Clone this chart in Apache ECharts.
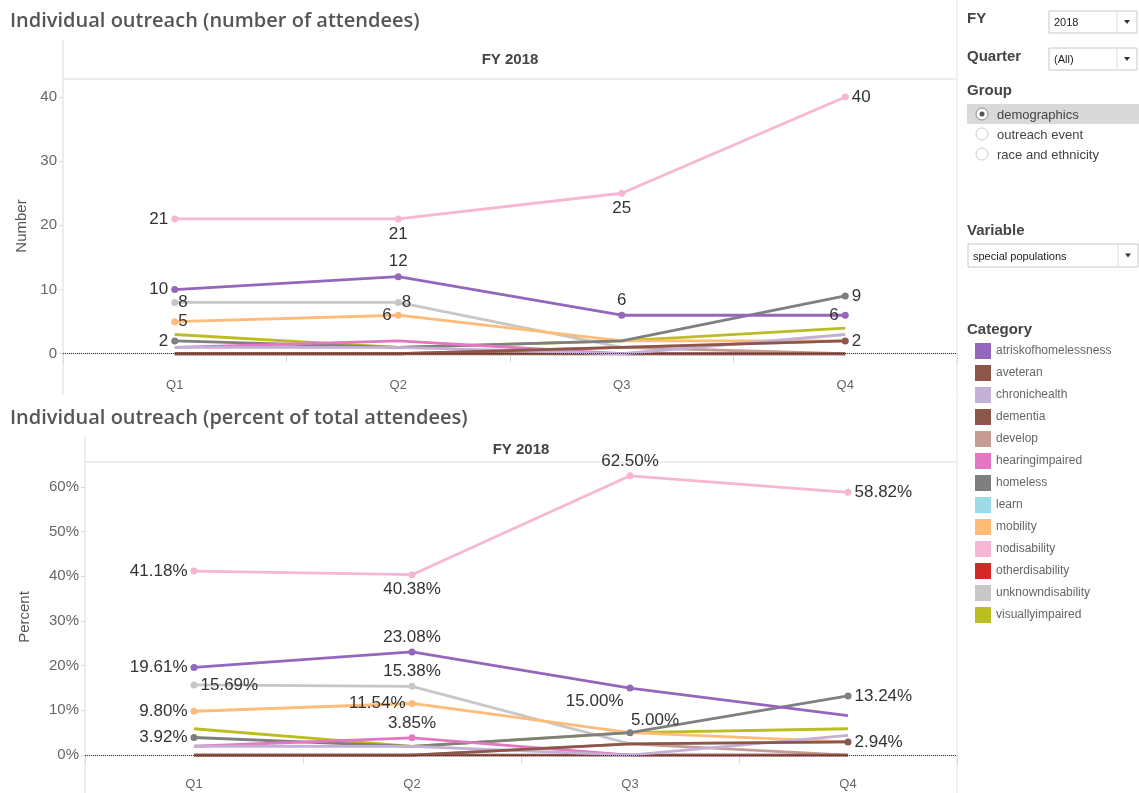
<!DOCTYPE html>
<html>
<head>
<meta charset="utf-8">
<title>Individual outreach</title>
<script src="https://cdn.jsdelivr.net/npm/echarts@6/dist/echarts.min.js"></script>
<style>
  html, body { margin: 0; padding: 0; background: #fff; }
  #main { width: 1139px; height: 793px; }
</style>
</head>
<body>
<div id="main"></div>
<script>
var quarters = ['Q1', 'Q2', 'Q3', 'Q4'];
var categories = ['atriskofhomelessness', 'aveteran', 'chronichealth', 'dementia', 'develop',
  'hearingimpaired', 'homeless', 'learn', 'mobility', 'nodisability', 'otherdisability',
  'unknowndisability', 'visuallyimpaired'];
var colors = ['#9467bd', '#8c564b', '#c5b0d5', '#8c564b', '#c49c94', '#e377c2', '#7f7f7f',
  '#9edae5', '#ffbb78', '#f7b6d2', '#d62728', '#c7c7c7', '#bcbd22'];

// number of attendees per quarter
var countAtrisk   = [10, 12, 6, 6];
var countVeteran  = [0, 0, 1, 2];
var countChronic  = [1, 1, 0, 3];
var countDementia = [0, 0, 0, 0];
var countDevelop  = [0, 0, 1, 0];
var countHearing  = [1, 2, 0, 0];
var countHomeless = [2, 1, 2, 9];
var countLearn    = [null, null, null, null];
var countMobility = [5, 6, 2, 2];
var countNodis    = [21, 21, 25, 40];
var countOther    = [null, null, null, null];
var countUnknown  = [8, 8, 1, 2];
var countVisual   = [3, 1, 2, 4];

// percent of total attendees per quarter
var pctAtrisk   = [19.61, 23.08, 15.00, 8.82];
var pctVeteran  = [0, 0, 2.50, 2.94];
var pctChronic  = [1.96, 1.92, 0, 4.41];
var pctDementia = [0, 0, 0, 0];
var pctDevelop  = [0, 0, 2.50, 0];
var pctHearing  = [1.96, 3.85, 0, 0];
var pctHomeless = [3.92, 1.92, 5.00, 13.24];
var pctLearn    = [null, null, null, null];
var pctMobility = [9.80, 11.54, 5.00, 2.94];
var pctNodis    = [41.18, 40.38, 62.50, 58.82];
var pctOther    = [null, null, null, null];
var pctUnknown  = [15.69, 15.38, 2.50, 2.94];
var pctVisual   = [5.88, 1.92, 5.00, 5.88];

var countData = [countAtrisk, countVeteran, countChronic, countDementia, countDevelop, countHearing,
  countHomeless, countLearn, countMobility, countNodis, countOther, countUnknown, countVisual];
var pctData = [pctAtrisk, pctVeteran, pctChronic, pctDementia, pctDevelop, pctHearing,
  pctHomeless, pctLearn, pctMobility, pctNodis, pctOther, pctUnknown, pctVisual];

// where the marks get a label: [position, offsetX, offsetY]
var countMarks = {
  atriskofhomelessness: [['left'], ['top'], ['top'], ['left']],
  aveteran: [null, null, null, ['right']],
  homeless: [['left'], null, null, ['right']],
  mobility: [['right', -3], ['left'], null, null],
  nodisability: [['left'], ['bottom'], ['bottom'], ['right']],
  unknowndisability: [['right', -3], ['right', -3], null, null]
};
var pctMarks = {
  atriskofhomelessness: [['left'], ['top'], ['left', 0, 13], null],
  aveteran: [null, null, null, ['right']],
  hearingimpaired: [null, ['top'], null, null],
  homeless: [['left'], null, ['top', 25, 3], ['right']],
  mobility: [['left'], ['left'], null, null],
  nodisability: [['left'], ['bottom'], ['top'], ['right']],
  unknowndisability: [['right'], ['top'], null, null]
};

var labelFont = { color: '#333', fontSize: 17, fontFamily: 'Liberation Sans, Arial, sans-serif' };

function buildData(values, marks, fmt) {
  return values.map(function (v, i) {
    var m = marks && marks[i];
    if (!m || v == null) return { value: v, symbolSize: 0 };
    return {
      value: v,
      symbolSize: 7,
      label: Object.assign({
        show: true,
        position: m[0],
        distance: 3,
        offset: [m[1] || 0, m[2] || 0],
        formatter: function (p) { return fmt(p.value); }
      }, labelFont)
    };
  });
}

// drawn last-to-first so the first categories end up on top
var series = [];
for (var k = categories.length - 1; k >= 0; k--) {
  var name = categories[k];
  var base = {
    name: name,
    type: 'line',
    symbol: 'circle',
    showSymbol: true,
    color: colors[k],
    lineStyle: { width: 2.8, color: colors[k] },
    itemStyle: { color: colors[k] },
    emphasis: { disabled: true },
    z: 3,
    animation: false
  };
  series.push(Object.assign({}, base, {
    xAxisIndex: 0, yAxisIndex: 0,
    data: buildData(countData[k], countMarks[name], function (v) { return String(v); })
  }));
  series.push(Object.assign({}, base, {
    xAxisIndex: 1, yAxisIndex: 1,
    data: buildData(pctData[k], pctMarks[name], function (v) { return v.toFixed(2) + '%'; })
  }));
}

// dotted zero lines
[0, 1].forEach(function (g) {
  series.push({
    type: 'line', xAxisIndex: g, yAxisIndex: g, data: [], z: 1, silent: true,
    markLine: {
      silent: true, symbol: 'none', animation: false,
      label: { show: false },
      lineStyle: { type: 'dotted', color: '#333', width: 1 },
      data: [{ yAxis: 0 }]
    }
  });
});

var axisGrey = '#dcdcdc';
function xAxisDef(g) {
  return {
    type: 'category', gridIndex: g, data: quarters, boundaryGap: true,
    axisLine: { show: true, lineStyle: { color: axisGrey } },
    axisTick: { show: true, length: 9, lineStyle: { color: axisGrey } },
    axisLabel: { color: '#666', fontSize: 13, margin: 6, fontFamily: 'Liberation Sans, Arial, sans-serif' },
    splitLine: { show: false }
  };
}
function yAxisDef(g, min, max, ticks, name, fmt, gap) {
  return {
    type: 'value', gridIndex: g, min: min, max: max,
    name: name, nameLocation: 'middle', nameGap: gap,
    nameTextStyle: { color: '#555', fontSize: 15, fontFamily: 'Liberation Sans, Arial, sans-serif' },
    axisLine: { show: false },
    axisTick: { show: true, length: 4, customValues: ticks, lineStyle: { color: axisGrey } },
    axisLabel: { color: '#666', fontSize: 15, margin: 6, customValues: ticks, formatter: fmt,
      fontFamily: 'Liberation Sans, Arial, sans-serif' },
    splitLine: { show: false }
  };
}

function line(x1, y1, x2, y2, c) {
  return { type: 'line', silent: true, shape: { x1: x1, y1: y1, x2: x2, y2: y2 },
    style: { stroke: c || axisGrey, lineWidth: 1 } };
}
function txt(x, y, s, opt) {
  return { type: 'text', silent: true, x: x, y: y,
    style: Object.assign({ text: s, fill: '#444', font: '13px "Liberation Sans", Arial, sans-serif',
      verticalAlign: 'middle' }, opt || {}) };
}
function dropdown(x, y, w, h, s, fs) {
  return [
    { type: 'rect', silent: true, shape: { x: x, y: y, width: w, height: h },
      style: { fill: '#fff', stroke: '#c8c8c8', lineWidth: 1 } },
    line(x + w - 20, y + 1, x + w - 20, y + h - 1, '#ddd'),
    txt(x + 5, y + h / 2 + 1, s, { fill: '#222', font: (fs || 11) + 'px "Liberation Sans", Arial, sans-serif' }),
    { type: 'polygon', silent: true,
      shape: { points: [[x + w - 13, y + h / 2 - 2], [x + w - 7, y + h / 2 - 2], [x + w - 10, y + h / 2 + 2]] },
      style: { fill: '#333' } }
  ];
}
function radio(y, label, on) {
  var g = [];
  if (on) g.push({ type: 'rect', silent: true, shape: { x: 967, y: y - 10, width: 172, height: 20 },
    style: { fill: '#d9d9d9' } });
  g.push({ type: 'circle', silent: true, shape: { cx: 982, cy: y, r: 6 },
    style: { fill: '#fff', stroke: on ? '#888' : '#ccc', lineWidth: 1 } });
  if (on) g.push({ type: 'circle', silent: true, shape: { cx: 982, cy: y, r: 2.5 }, style: { fill: '#555' } });
  g.push(txt(997, y + 1, label, { fill: '#444', font: '13px "Liberation Sans", Arial, sans-serif' }));
  return g;
}

var titleFont = '600 20px "Open Sans", sans-serif';
var headFont = 'bold 15px "Liberation Sans", Arial, sans-serif';
var ctrlFont = 'bold 15px "Liberation Sans", Arial, sans-serif';

var graphics = [
  txt(10, 21, 'Individual outreach (number of attendees)', { fill: '#555', font: titleFont }),
  txt(10, 418, 'Individual outreach (percent of total attendees)', { fill: '#555', font: titleFont }),
  line(63, 40, 63, 395),
  line(63, 79, 957, 79),
  txt(510, 60, 'FY 2018', { fill: '#444', font: headFont, align: 'center' }),
  line(85, 437, 85, 793),
  line(85, 462, 957, 462),
  txt(521, 450, 'FY 2018', { fill: '#444', font: headFont, align: 'center' }),
  line(957, 0, 957, 793, '#e4e4e4'),
  txt(967, 19, 'FY', { fill: '#444', font: ctrlFont }),
  txt(967, 57, 'Quarter', { fill: '#444', font: ctrlFont }),
  txt(967, 91, 'Group', { fill: '#444', font: ctrlFont }),
  txt(967, 231, 'Variable', { fill: '#444', font: ctrlFont }),
  txt(967, 330, 'Category', { fill: '#444', font: ctrlFont })
]
  .concat(dropdown(1049, 11, 88, 22, '2018'))
  .concat(dropdown(1049, 48, 88, 22, '(All)'))
  .concat(radio(114, 'demographics', true))
  .concat(radio(134, 'outreach event', false))
  .concat(radio(154, 'race and ethnicity', false))
  .concat(dropdown(968, 244, 170, 23, 'special populations'));

var chart = echarts.init(document.getElementById('main'));
var option = {
  backgroundColor: '#fff',
  animation: false,
  legend: {
    data: categories,
    orient: 'vertical',
    left: 970, top: 338,
    icon: 'rect',
    itemWidth: 16, itemHeight: 16, itemGap: 6,
    selectedMode: false,
    textStyle: { color: '#666', fontSize: 12, fontFamily: 'Liberation Sans, Arial, sans-serif' }
  },
  grid: [
    { left: 63, right: 1139 - 957, top: 79, height: 294 },
    { left: 85, right: 1139 - 957, top: 462, height: 310 }
  ],
  xAxis: [xAxisDef(0), xAxisDef(1)],
  yAxis: [
    yAxisDef(0, -3, 42.8, [0, 10, 20, 30, 40], 'Number', function (v) { return v; }, 27),
    yAxisDef(1, -3.8, 65.6, [0, 10, 20, 30, 40, 50, 60], 'Percent', function (v) { return v + '%'; }, 53)
  ],
  graphic: graphics,
  series: series
};
chart.setOption(option);
</script>
</body>
</html>
